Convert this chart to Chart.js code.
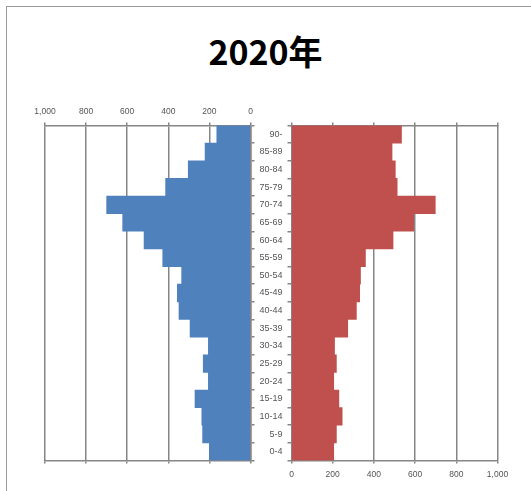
<!DOCTYPE html>
<html>
<head>
<meta charset="utf-8">
<script src="https://cdn.jsdelivr.net/npm/chart.js@4/dist/chart.umd.min.js"></script>
<style>
  html, body { margin: 0; padding: 0; background: #fff; }
  #wrap { position: relative; width: 531px; height: 491px; overflow: hidden; }
  #frame { position: absolute; left: 6px; top: 6px; width: 600px; height: 600px;
           border-left: 1.5px solid #9a9a9a; border-top: 1.5px solid #9a9a9a; }
  #title { position: absolute; left: 0; width: 531px; top: 28px; text-align: center;
           font-family: "Noto Sans CJK JP", "Noto Sans", sans-serif; font-weight: 700;
           font-size: 34px; line-height: 46px; color: #000; }
  canvas { position: absolute; left: 0; top: 0; }
</style>
</head>
<body>
<div id="wrap">
  <div id="frame"></div>
  <div id="title">2020年</div>
  <canvas id="left" width="531" height="491"></canvas>
  <canvas id="right" width="531" height="491"></canvas>
</div>
<script>
// ---- data ----
const ageGroups = ['90-', '85-89', '80-84', '75-79', '70-74', '65-69', '60-64', '55-59', '50-54',
  '45-49', '40-44', '35-39', '30-34', '25-29', '20-24', '15-19', '10-14', '5-9', '0-4'];
const maleValues = [164, 221, 303, 413, 700, 622, 518, 427, 335, 356, 348, 294, 205, 230, 205, 270, 237, 233, 200];
const femaleValues = [534, 488, 504, 513, 698, 593, 493, 359, 335, 331, 315, 273, 209, 218, 205, 230, 246, 218, 205];
const axisMin = 0, axisMax = 1000, axisStep = 200;

// ---- styles ----
const W = 531, H = 491;
const plotTop = 125.5, plotBottom = 460.5;
const leftPlotL = 45, leftPlotR = 250.5;
const rightPlotL = 291.5, rightPlotR = 497.5;
const gridColor = '#858585';
const tickColor = '#555555';
const tickFont = { family: "'Liberation Sans', 'DejaVu Sans', sans-serif", size: 8.5 };
const catFont = { family: "'Liberation Sans', 'DejaVu Sans', sans-serif", size: 9 };
const edgeTick = 3;

function valueAxis(opts) {
  return Object.assign({
    type: 'linear', min: axisMin, max: axisMax,
    ticks: { stepSize: axisStep, color: tickColor, font: tickFont, padding: 6, maxRotation: 0 },
    grid: { color: gridColor, lineWidth: 1.5, tickLength: edgeTick, tickColor: gridColor },
    border: { color: gridColor, width: 1.5 }
  }, opts);
}

// left (male) chart
new Chart(document.getElementById('left'), {
  type: 'bar',
  data: {
    labels: ageGroups,
    datasets: [{ data: maleValues, backgroundColor: '#4F81BD', borderWidth: 0,
                 barPercentage: 1, categoryPercentage: 1, xAxisID: 'x', yAxisID: 'y' }]
  },
  options: {
    indexAxis: 'y', responsive: false, animation: false,
    layout: { padding: { left: leftPlotL, right: W - leftPlotR - 4, top: 0, bottom: H - plotBottom - edgeTick } },
    plugins: { legend: { display: false }, tooltip: { enabled: false } },
    scales: {
      x: valueAxis({ position: 'top', reverse: true,
        afterFit: s => { s.height = plotTop; } }),
      x2: valueAxis({ position: 'bottom', reverse: true,
        ticks: { display: false, stepSize: axisStep },
        grid: { drawOnChartArea: false, color: gridColor, lineWidth: 1.5, tickLength: edgeTick },
        afterFit: s => { s.height = edgeTick; } }),
      y: { type: 'category', position: 'right', offset: true,
        ticks: { display: false },
        grid: { drawOnChartArea: false, offset: true, color: gridColor, lineWidth: 1.5, tickLength: 4 },
        border: { color: gridColor, width: 1.5 },
        afterFit: s => { s.width = 4; } }
    }
  }
});

// right (female) chart
new Chart(document.getElementById('right'), {
  type: 'bar',
  data: {
    labels: ageGroups,
    datasets: [{ data: femaleValues, backgroundColor: '#C0504D', borderWidth: 0,
                 barPercentage: 1, categoryPercentage: 1, xAxisID: 'x', yAxisID: 'y' }]
  },
  options: {
    indexAxis: 'y', responsive: false, animation: false,
    layout: { padding: { left: 250, right: W - rightPlotR, top: plotTop - edgeTick, bottom: 0 } },
    plugins: { legend: { display: false }, tooltip: { enabled: false } },
    scales: {
      x: valueAxis({ position: 'bottom',
        afterFit: s => { s.height = H - plotBottom; } }),
      x2: valueAxis({ position: 'top',
        ticks: { display: false, stepSize: axisStep },
        grid: { drawOnChartArea: false, color: gridColor, lineWidth: 1.5, tickLength: edgeTick },
        afterFit: s => { s.height = edgeTick; } }),
      y: { type: 'category', position: 'left', offset: true,
        ticks: { color: tickColor, font: catFont, padding: 5 },
        grid: { drawOnChartArea: false, offset: true, color: gridColor, lineWidth: 1.5, tickLength: 4 },
        border: { color: gridColor, width: 1.5 },
        afterFit: s => { s.width = rightPlotL - 250; } }
    }
  }
});
</script>
</body>
</html>
